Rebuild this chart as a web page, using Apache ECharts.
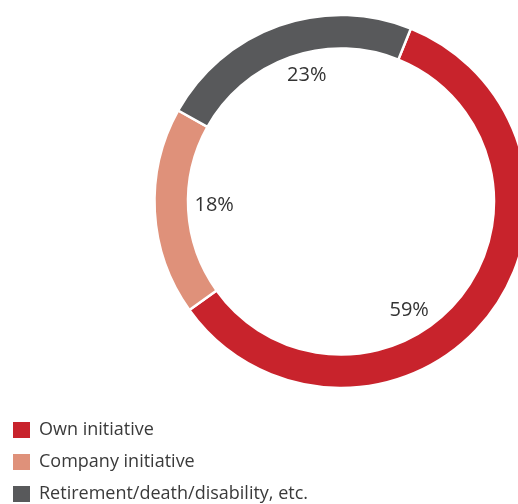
<!DOCTYPE html>
<html>
<head>
<meta charset="utf-8">
<style>
  html, body { margin: 0; padding: 0; background: #ffffff; }
  #chart { width: 518px; height: 504px; }
</style>
<script src="https://cdn.jsdelivr.net/npm/echarts@6/dist/echarts.min.js"></script>
</head>
<body>
<div id="chart"></div>
<script>
// Reasons for leaving, share of departures (%)
const categories = ['Own initiative', 'Company initiative', 'Retirement/death/disability, etc.'];
const shares = [59, 18, 23];
const colors = ['#c8232c', '#df917a', '#58595b'];
// nudges for the percentage labels inside the hole
const labelNudges = [[-34, 28], [3, -3], [9, -4]];

const pieData = categories.map((name, i) => ({
  name: name,
  value: shares[i],
  itemStyle: { color: colors[i] }
}));

// Percentage labels sit inside the hole, on a transparent helper ring
const labelData = categories.map((name, i) => ({
  name: name,
  value: shares[i],
  label: { offset: labelNudges[i] }
}));

const chart = echarts.init(document.getElementById('chart'), null, { renderer: 'canvas' });

chart.setOption({
  animation: false,
  backgroundColor: '#ffffff',
  legend: {
    orient: 'vertical',
    left: 11,
    top: 420,
    height: 140,
    padding: 0,
    icon: 'rect',
    itemWidth: 19,
    itemHeight: 18,
    itemGap: 12,
    selectedMode: false,
    data: categories,
    textStyle: {
      fontFamily: 'Open Sans',
      fontSize: 18,
      color: '#3a3a3a',
      padding: [3, 0, 0, 3]
    }
  },
  series: [
    {
      type: 'pie',
      center: [341, 201.5],
      radius: [153, 186.5],
      startAngle: 68,
      clockwise: true,
      silent: true,
      label: { show: false },
      labelLine: { show: false },
      itemStyle: { borderColor: '#ffffff', borderWidth: 2.5 },
      data: pieData
    },
    {
      type: 'pie',
      center: [341, 201.5],
      radius: [119, 135],
      startAngle: 68,
      clockwise: true,
      silent: true,
      legendHoverLink: false,
      itemStyle: { color: 'rgba(0,0,0,0)' },
      label: {
        show: true,
        position: 'inside',
        formatter: '{c}%',
        fontFamily: 'Open Sans',
        fontSize: 20,
        color: '#333333'
      },
      labelLine: { show: false },
      data: labelData
    }
  ]
});
</script>
</body>
</html>
